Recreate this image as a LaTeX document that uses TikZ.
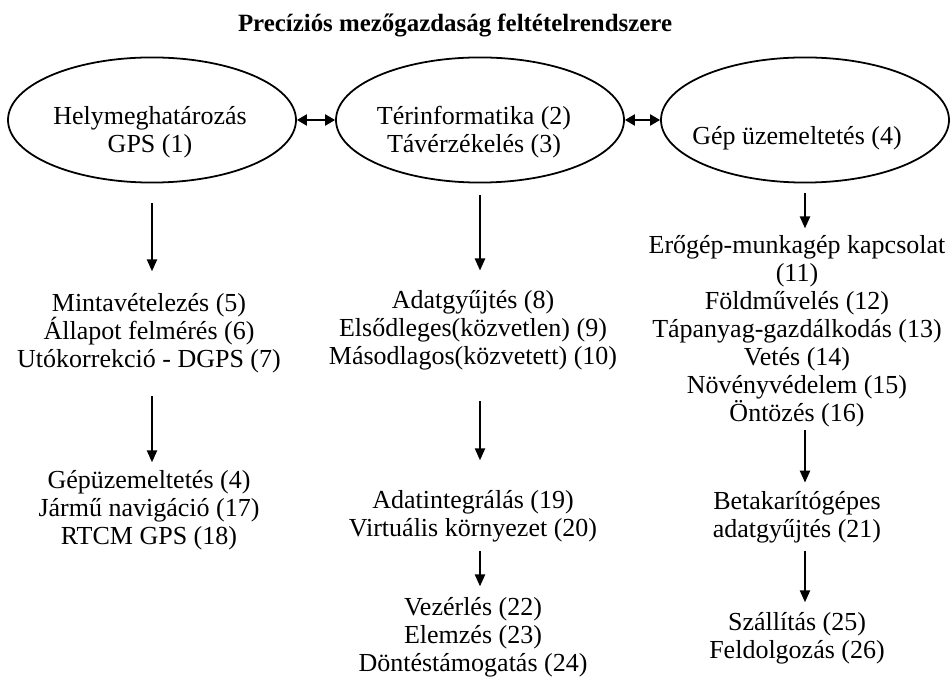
\documentclass[tikz,border=0pt]{standalone}
\usepackage{fontspec}
\setmainfont{Liberation Serif}
\usetikzlibrary{shapes.geometric,arrows.meta,calc}

\tikzset{
  oval/.style={draw, ellipse, line width=0.8pt, minimum width=129.6pt, minimum height=56.3pt, inner sep=0pt},
  txt/.style={align=center, anchor=base, inner sep=0pt, font=\fontsize{11.7}{12.6}\selectfont},
  arr/.style={-{Triangle[length=5.4pt,width=4.6pt]}, line width=0.8pt},
  dbl/.style={{Triangle[length=4.5pt,width=5pt]}-{Triangle[length=4.5pt,width=5pt]}, line width=0.8pt}
}

\begin{document}
\begin{tikzpicture}[x=0.45pt,y=-0.45pt]
    \useasboundingbox (0,0) rectangle (951,681);
    \node[font=\fontsize{11.2}{13}\selectfont\bfseries, anchor=base] (title) at (455,32) {Precíziós mezőgazdaság feltételrendszere};
    % ellipszisek
    \node[oval] (hely) at (152,120) {};
    \node[oval] (ter) at (480,120) {};
    \node[oval] (gep) at (805,120) {};
    \node[txt] (helyT) at (150,153) {Helymeghatározás\\GPS (1)};
    \node[txt] (terT) at (474,153) {Térinformatika (2)\\Távérzékelés (3)};
    \node[txt] (gepT) at (797,145) {Gép üzemeltetés (4)};
    \draw[dbl] (hely.east) -- (ter.west);
    \draw[dbl] (ter.east) -- (gep.west);
    % 1. oszlop
    \node[txt] (minta) at (149,368) {Mintavételezés (5)\\Állapot felmérés (6)\\Utókorrekció - DGPS (7)};
    \node[txt] (jarmu) at (149,545) {Gépüzemeltetés (4)\\Jármű navigáció (17)\\RTCM GPS (18)};
    % 2. oszlop
    \node[txt] (adat) at (473,365) {Adatgyűjtés (8)\\Elsődleges(közvetlen) (9)\\Másodlagos(közvetett) (10)};
    \node[txt] (integr) at (473,537) {Adatintegrálás (19)\\Virtuális környezet (20)};
    \node[txt] (vez) at (473,672) {Vezérlés (22)\\Elemzés (23)\\Döntéstámogatás (24)};
    % 3. oszlop
    \node[txt] (eroegep) at (797,422) {Erőgép-munkagép kapcsolat\\(11)\\Földművelés (12)\\Tápanyag-gazdálkodás (13)\\Vetés (14)\\Növényvédelem (15)\\Öntözés (16)};
    \node[txt] (betak) at (797,538) {Betakarítógépes\\adatgyűjtés (21)};
    \node[txt] (szall) at (797,659) {Szállítás (25)\\Feldolgozás (26)};
    % nyilak
    \draw[arr, shorten <=9pt, shorten >=10pt] (hely.south) -- (hely.south |- minta.north);
    \draw[arr, shorten <=10pt, shorten >=3.7pt] (hely.south |- minta.south) -- (hely.south |- jarmu.north);
    \draw[arr, shorten <=5.4pt, shorten >=9pt] (ter.south) -- (ter.south |- adat.north);
    \draw[arr, shorten <=13.5pt, shorten >=13.6pt] (ter.south |- adat.south) -- (ter.south |- integr.north);
    \draw[arr, shorten <=3.6pt, shorten >=5pt] (ter.south |- integr.south) -- (ter.south |- vez.north);
    \draw[arr, shorten <=4.5pt, shorten >=3.2pt] (gep.south) -- (gep.south |- eroegep.north);
    \draw[arr, shorten <=1pt, shorten >=4pt] (gep.south |- eroegep.south) -- (gep.south |- betak.north);
    \draw[arr, shorten <=3pt, shorten >=4.6pt] (gep.south |- betak.south) -- (gep.south |- szall.north);
\end{tikzpicture}
\end{document}
